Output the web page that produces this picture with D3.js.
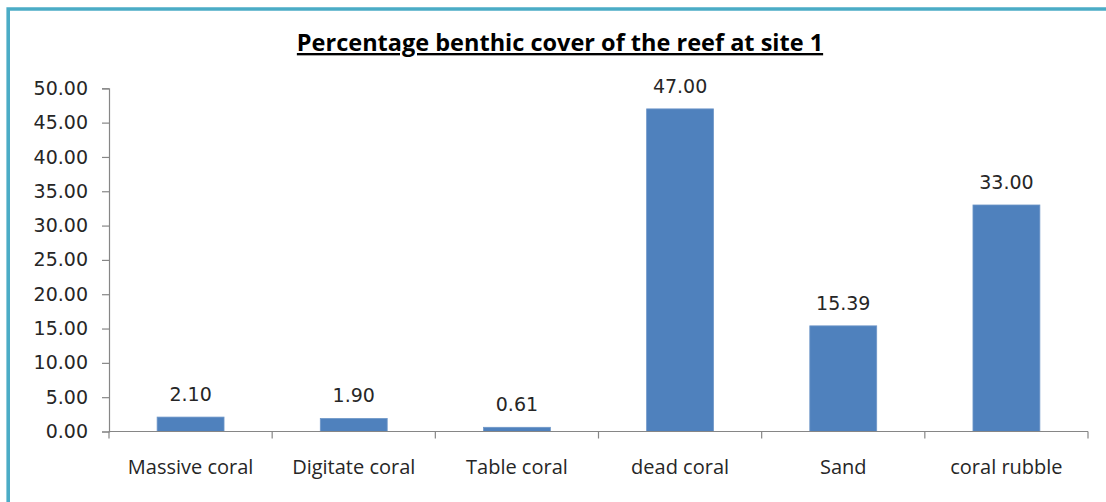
<!DOCTYPE html>
<html>
<head>
<meta charset="utf-8">
<script src="https://cdn.jsdelivr.net/npm/d3@7"></script>
<style>
  html, body { margin: 0; padding: 0; background: #ffffff; }
  svg { display: block; }
</style>
</head>
<body>
<svg id="chart" width="1106" height="502"></svg>
<script>
// Benthic cover categories and their percentage cover at site 1
const categories = ["Massive coral", "Digitate coral", "Table coral", "dead coral", "Sand", "coral rubble"];
const coverValues = [2.10, 1.90, 0.61, 47.00, 15.39, 33.00];
const yTickValues = [0, 5, 10, 15, 20, 25, 30, 35, 40, 45, 50];
const titleText = "Percentage benthic cover of the reef at site 1";

const svg = d3.select("#chart");
const W = 1106, H = 502;

const plot = { left: 109, right: 1088, top: 88.3, bottom: 431.5 };

// frame: teal rule along the left and top edges
svg.append("path")
  .attr("d", `M8.2,${H} L8.2,9 L${W},9`)
  .attr("fill", "none")
  .attr("stroke", "#4BACC6")
  .attr("stroke-width", 3.6);

const x = d3.scaleBand()
  .domain(categories)
  .range([plot.left, plot.right])
  .paddingInner(0.59)
  .paddingOuter(0.295);

const y = d3.scaleLinear()
  .domain([0, 50])
  .range([plot.bottom, plot.top]);

const numFont = "'DejaVu Sans', sans-serif";
const textFont = "'Open Sans', sans-serif";
const textColor = "#262626";
const axisColor = "#868686";

// y axis
const yAxis = svg.append("g")
  .attr("transform", `translate(${plot.left},0)`)
  .call(d3.axisLeft(y).tickValues(yTickValues).tickFormat(d3.format(".2f")).tickSize(7).tickPadding(14));
yAxis.select(".domain").attr("stroke", axisColor).attr("stroke-width", 1.2);
yAxis.selectAll(".tick line").attr("stroke", axisColor).attr("stroke-width", 1.2);
yAxis.selectAll(".tick text")
  .attr("fill", textColor)
  .style("font-family", numFont)
  .style("font-size", "19px");

// bars
svg.append("g").selectAll("rect")
  .data(categories)
  .join("rect")
  .attr("x", d => x(d))
  .attr("width", x.bandwidth())
  .attr("y", (d, i) => y(coverValues[i]))
  .attr("height", (d, i) => y(0) - y(coverValues[i]))
  .attr("fill", "#4F81BD")
  .attr("stroke", "#6f97c8")
  .attr("stroke-width", 0.8);

// x axis: baseline with tick marks between categories
const xAxis = svg.append("g");
xAxis.append("line")
  .attr("x1", plot.left).attr("x2", plot.right)
  .attr("y1", y(0)).attr("y2", y(0))
  .attr("stroke", axisColor).attr("stroke-width", 1.2);
const boundaries = d3.range(categories.length + 1).map(i => plot.left + i * x.step());
xAxis.selectAll("line.tick")
  .data(boundaries)
  .join("line")
  .attr("class", "tick")
  .attr("x1", d => d).attr("x2", d => d)
  .attr("y1", y(0)).attr("y2", y(0) + 7)
  .attr("stroke", axisColor).attr("stroke-width", 1.2);

xAxis.selectAll("text")
  .data(categories)
  .join("text")
  .attr("x", d => x(d) + x.bandwidth() / 2)
  .attr("y", 474)
  .attr("text-anchor", "middle")
  .attr("fill", textColor)
  .style("font-family", textFont)
  .style("font-size", "20px")
  .text(d => d);

// value labels above bars
svg.append("g").selectAll("text")
  .data(categories)
  .join("text")
  .attr("x", d => x(d) + x.bandwidth() / 2)
  .attr("y", (d, i) => y(coverValues[i]) - 16)
  .attr("text-anchor", "middle")
  .attr("fill", textColor)
  .style("font-family", numFont)
  .style("font-size", "19px")
  .text((d, i) => d3.format(".2f")(coverValues[i]));

// title
svg.append("text")
  .attr("x", 560)
  .attr("y", 51)
  .attr("text-anchor", "middle")
  .attr("fill", "#000")
  .style("font-family", textFont)
  .style("font-weight", "bold")
  .style("font-size", "23.5px")
  .style("text-decoration", "underline")
  .text(titleText);
</script>
</body>
</html>
